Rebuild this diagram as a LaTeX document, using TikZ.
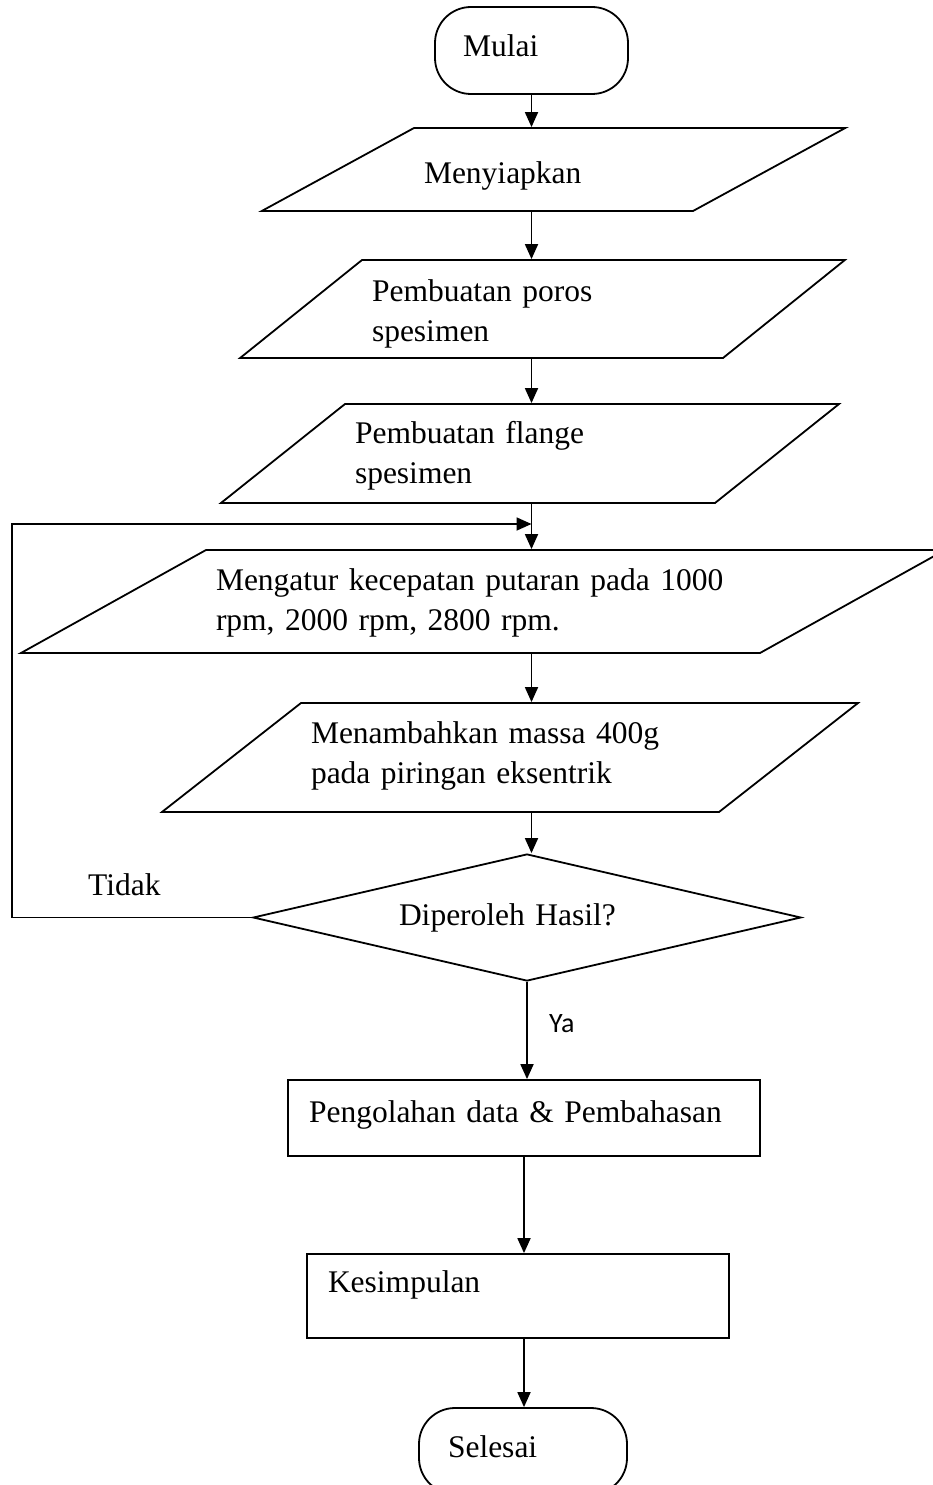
\documentclass[tikz,border=0pt]{standalone}
\usepackage{fontspec}
\setmainfont{Liberation Serif}
\newfontfamily\yafont{Carlito}
\usepackage{tikz}
\usetikzlibrary{shapes.geometric,arrows.meta}

\tikzset{
    every node/.style={font=\fontsize{31.5}{40}\selectfont},
    term/.style={draw, rounded corners=36pt, align=left, inner ysep=0pt},
    io/.style={draw, trapezium, align=left, inner xsep=10pt, inner ysep=0pt},
    proc/.style={draw, rectangle, align=left, inner xsep=21pt, inner ysep=0pt},
    decision/.style={draw, diamond, aspect=4.3, align=left, inner sep=0pt},
    arr/.style={-{Triangle[length=15pt,width=13pt]}}
}

\begin{document}
\begin{tikzpicture}[x=1pt, y=-1pt, line width=1.8pt]
    \useasboundingbox (0,0) rectangle (933,1485);
    % flow nodes
    \node[term, text width=137pt, inner xsep=28pt, text height=50pt, text depth=37pt] (mulai) at (531.5,50.5) {Mulai};
    \node[io, trapezium left angle=28.6, trapezium right angle=151.4, text width=259pt, text height=55pt, text depth=28pt] (siap) at (553.5,169.5) {Menyiapkan};
    \node[io, trapezium left angle=38.8, trapezium right angle=141.2, text width=341pt, text height=41pt, text depth=57pt] (poros) at (542.5,309) {Pembuatan poros\\spesimen};
    \node[io, trapezium left angle=38.6, trapezium right angle=141.4, text width=350pt, text height=39pt, text depth=60pt] (flange) at (530,453.5) {Pembuatan flange\\spesimen};
    \node[io, trapezium left angle=29.1, trapezium right angle=150.9, text width=534pt, text height=40pt, text depth=63pt] (atur) at (483,601.5) {Mengatur kecepatan putaran pada 1000\\rpm, 2000 rpm, 2800 rpm.};
    \node[io, trapezium left angle=38.1, trapezium right angle=141.9, text width=398pt, text height=40pt, text depth=69pt] (tambah) at (510,757.5) {Menambahkan massa 400g\\pada piringan eksentrik};
    \node[decision, text width=256pt, minimum width=548pt, minimum height=127pt] (hasil) at (527,917.5) {Diperoleh Hasil?};
    \node[proc, text width=430pt, text height=42pt, text depth=34pt] (olah) at (524,1118) {Pengolahan data \& Pembahasan};
    \node[proc, text width=380pt, text height=38pt, text depth=46pt] (simpul) at (518,1296) {Kesimpulan};
    \node[term, text width=150pt, inner xsep=29pt, text height=49pt, text depth=37pt] (selesai) at (523,1451) {Selesai};
    % branch labels
    \node[anchor=base west] (tidak) at (84,895) {Tidak};
    \node[anchor=base west, font=\yafont\fontsize{28}{34}\selectfont] (ya) at (545,1032) {Ya};
    \coordinate (balik) at (12,524);
    % arrows
    \draw[arr] (mulai) -- (mulai |- siap.north);
    \draw[arr] (mulai |- siap.south) -- (mulai |- poros.north);
    \draw[arr] (mulai |- poros.south) -- (mulai |- flange.north);
    \draw[arr] (mulai |- flange.south) -- (mulai |- atur.north);
    \draw[arr] (mulai |- atur.south) -- (mulai |- tambah.north);
    \draw[arr] (mulai |- tambah.south) -- (mulai |- hasil.north);
    \draw[arr] (hasil.south) -- (hasil.south |- olah.north);
    \draw[arr] (olah) -- (olah |- simpul.north);
    \draw[arr] (olah |- simpul.south) -- (olah |- selesai.north);
    \draw[arr] (hasil.west) -| (balik) -- (mulai |- balik);
\end{tikzpicture}
\end{document}
